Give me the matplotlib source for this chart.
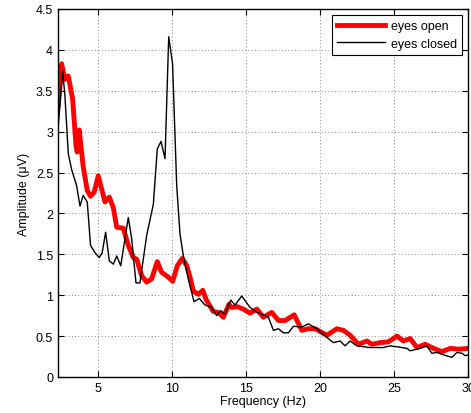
import numpy as np
import matplotlib.pyplot as plt

plt.rcParams['font.family'] = ['Liberation Sans', 'DejaVu Sans']

# eyes open (red, thick)
freq_open = [2.32, 2.55, 2.77, 3.0, 3.29, 3.52, 3.6, 3.74, 4.0, 4.28, 4.5, 4.75, 5.02,
             5.25, 5.48, 5.77, 6.04, 6.27, 6.71, 7.05, 7.39, 7.62, 7.95, 8.29, 8.63,
             9.01, 9.3, 9.69, 10.05, 10.36, 10.7, 11.0, 11.22, 11.44, 11.78, 12.08,
             12.3, 12.79, 13.13, 13.47, 13.85, 14.03, 14.41, 14.82, 15.27, 15.73,
             16.17, 16.74, 17.19, 17.64, 18.25, 18.77, 19.21, 19.67, 20.46, 21.13,
             21.58, 22.03, 22.59, 23.16, 23.5, 24.06, 24.62, 25.19, 25.63, 26.08,
             26.54, 27.1, 27.66, 28.23, 28.79, 29.35, 30.0]
amp_open = [3.32, 3.83, 3.64, 3.68, 3.40, 2.83, 2.75, 3.02, 2.58, 2.28, 2.21, 2.26, 2.46,
            2.30, 2.14, 2.20, 2.07, 1.83, 1.82, 1.61, 1.46, 1.44, 1.24, 1.16, 1.20,
            1.41, 1.28, 1.23, 1.17, 1.36, 1.45, 1.36, 1.22, 1.05, 1.01, 1.06,
            0.95, 0.80, 0.79, 0.73, 0.89, 0.85, 0.86, 0.83, 0.78, 0.83,
            0.73, 0.79, 0.69, 0.69, 0.76, 0.57, 0.59, 0.59, 0.51, 0.59,
            0.57, 0.51, 0.40, 0.44, 0.40, 0.42, 0.43, 0.50, 0.44, 0.47,
            0.36, 0.40, 0.35, 0.31, 0.35, 0.34, 0.35]

# eyes closed (black, thin)
freq_closed = [2.32, 2.62, 2.77, 3.0, 3.22, 3.56, 3.79, 4.0, 4.28, 4.5, 4.8, 5.09, 5.29,
               5.52, 5.77, 6.04, 6.27, 6.54, 7.05, 7.28, 7.57, 7.84, 8.29, 8.74, 9.01,
               9.26, 9.53, 9.78, 10.04, 10.32, 10.54, 10.77, 11.1, 11.49, 11.85, 12.23,
               12.68, 13.02, 13.29, 13.58, 13.97, 14.26, 14.71, 15.27, 15.73, 16.17,
               16.51, 16.85, 17.19, 17.52, 17.86, 18.2, 18.77, 19.21, 19.78, 20.34,
               20.9, 21.35, 21.69, 22.03, 22.48, 23.38, 24.28, 24.73, 25.19, 25.86,
               26.08, 26.76, 27.21, 27.55, 27.89, 28.34, 28.9, 29.24, 29.58, 29.8, 30.0]
amp_closed = [3.07, 3.74, 3.44, 2.73, 2.54, 2.34, 2.09, 2.22, 2.14, 1.61, 1.52, 1.46, 1.52,
              1.77, 1.42, 1.38, 1.48, 1.36, 1.95, 1.69, 1.15, 1.15, 1.73, 2.11, 2.79,
              2.88, 2.67, 4.16, 3.83, 2.34, 1.75, 1.48, 1.20, 0.92, 0.96, 0.88,
              0.85, 0.75, 0.81, 0.77, 0.94, 0.88, 0.99, 0.85, 0.79, 0.76,
              0.73, 0.57, 0.59, 0.54, 0.54, 0.62, 0.61, 0.65, 0.59, 0.50,
              0.42, 0.44, 0.38, 0.44, 0.38, 0.36, 0.36, 0.38, 0.37, 0.35,
              0.32, 0.35, 0.38, 0.29, 0.30, 0.27, 0.24, 0.30, 0.29, 0.26, 0.27]

fig = plt.figure(figsize=(4.71, 4.14), dpi=100)
ax = fig.add_axes([0.123, 0.087, 0.871, 0.889])

ax.plot(freq_open, amp_open, color='red', lw=3.5, label='eyes open')
ax.plot(freq_closed, amp_closed, color='black', lw=1.0, label='eyes closed')

ax.set_xlim(2.3, 30)
ax.set_ylim(0, 4.5)
ax.set_xticks([5, 10, 15, 20, 25, 30])
ax.set_yticks(np.arange(0, 4.6, 0.5))
ax.set_yticklabels(['0', '0.5', '1', '1.5', '2', '2.5', '3', '3.5', '4', '4.5'])
ax.grid(True, linestyle=(0, (1, 3)), color='black', lw=0.6, alpha=0.6)
ax.tick_params(direction='in', labelsize=9, top=True, right=True, length=4)
for s in ax.spines.values():
    s.set_linewidth(1.0)

ax.set_xlabel('Frequency (Hz)', fontsize=9, labelpad=1)
ax.set_ylabel('Amplitude (\u03bcV)', fontsize=9, labelpad=4)

leg = ax.legend(loc='upper right', fontsize=9, fancybox=False, framealpha=1,
                edgecolor='black', handlelength=3.8, borderaxespad=0.5,
                borderpad=0.4, labelspacing=0.45, handletextpad=0.5)
leg.get_frame().set_linewidth(0.8)

fig.savefig('out.png', dpi=100)
